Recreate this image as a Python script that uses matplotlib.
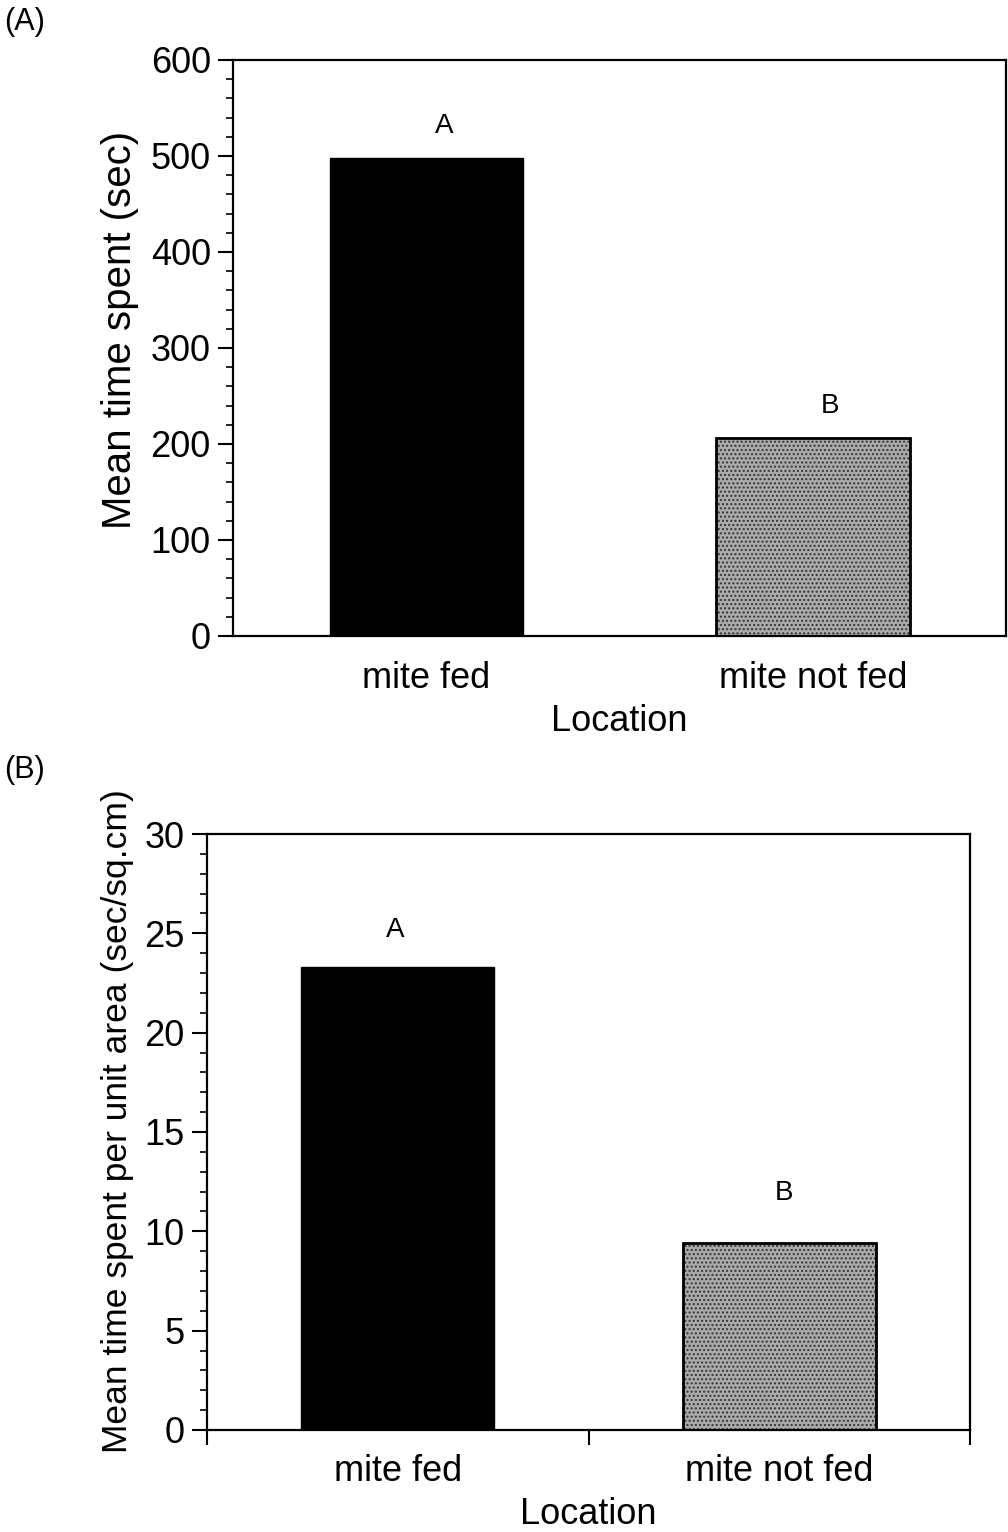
import matplotlib.pyplot as plt
from matplotlib.ticker import MultipleLocator

plt.rcParams['font.family'] = ['Liberation Sans', 'DejaVu Sans']

# datos
locations = ["mite fed", "mite not fed"]
time_spent = [498, 206]
time_per_area = [23.3, 9.4]
groups = ["A", "B"]

fig = plt.figure(figsize=(10.08, 15.32), dpi=100)

# panel (A)
ax1 = fig.add_axes([0.2312, 0.5849, 0.767, 0.3760])
x = range(len(locations))
ax1.bar(x, time_spent, width=0.5, color="black", edgecolor="black")
ax1.bar(x[1:], time_spent[1:], width=0.5, color="#aaaaaa", edgecolor="#333333",
        hatch="....", linewidth=0)
ax1.bar(x[1:], time_spent[1:], width=0.5, fill=False, edgecolor="black", linewidth=2)
ax1.set_xlim(-0.5, 1.5)
ax1.set_ylim(0, 600)
ax1.yaxis.set_major_locator(MultipleLocator(100))
ax1.yaxis.set_minor_locator(MultipleLocator(20))
ax1.set_xticks(list(x), locations)
ax1.tick_params(axis="x", length=0, pad=18, labelsize=26)
ax1.tick_params(axis="y", which="major", length=11, width=1.5, pad=5, labelsize=26)
ax1.tick_params(axis="y", which="minor", length=5, width=1.2)
ax1.set_xlabel("Location", fontsize=26, labelpad=6)
ax1.set_ylabel("Mean time spent (sec)", fontsize=29, va="center")
ax1.yaxis.set_label_coords(-0.146, 0.531)
for s in ax1.spines.values():
    s.set_linewidth(1.6)
for i, g in enumerate(groups):
    ax1.annotate(g, (i + 0.045, time_spent[i]), xytext=(0, 23), textcoords="offset points",
                 ha="center", va="center", fontsize=20)
fig.text(0.004, 1 - 22 / 1532, "(A)", fontsize=22, va="center", ha="left")

# panel (B)
ax2 = fig.add_axes([0.2054, 0.0666, 0.757, 0.389])
ax2.bar(x, time_per_area, width=0.505, color="black", edgecolor="black")
ax2.bar(x[1:], time_per_area[1:], width=0.505, color="#aaaaaa", edgecolor="#333333",
        hatch="....", linewidth=0)
ax2.bar(x[1:], time_per_area[1:], width=0.505, fill=False, edgecolor="black", linewidth=2)
ax2.set_xlim(-0.5, 1.5)
ax2.set_ylim(0, 30)
ax2.yaxis.set_major_locator(MultipleLocator(5))
ax2.yaxis.set_minor_locator(MultipleLocator(1))
ax2.set_xticks(list(x), locations)
ax2.set_xticks([-0.5, 0.5, 1.5], minor=True)
ax2.tick_params(axis="x", which="major", length=0, pad=17, labelsize=26)
ax2.tick_params(axis="x", which="minor", length=11, width=1.5)
ax2.tick_params(axis="y", which="major", length=11, width=1.5, pad=5, labelsize=26)
ax2.tick_params(axis="y", which="minor", length=5, width=1.2)
ax2.set_xlabel("Location", fontsize=26, labelpad=6)
ax2.set_ylabel("Mean time spent per unit area (sec/sq.cm)", fontsize=25.5, va="center")
ax2.yaxis.set_label_coords(-0.117, 0.518)
for s in ax2.spines.values():
    s.set_linewidth(1.6)
offsets = [27, 36]
shifts = [-0.008, 0.012]
for i, g in enumerate(groups):
    ax2.annotate(g, (i + shifts[i], time_per_area[i]), xytext=(0, offsets[i]),
                 textcoords="offset points", ha="center", va="center", fontsize=20)
fig.text(0.004, 1 - 770 / 1532, "(B)", fontsize=22, va="center", ha="left")

plt.savefig("out.png")
